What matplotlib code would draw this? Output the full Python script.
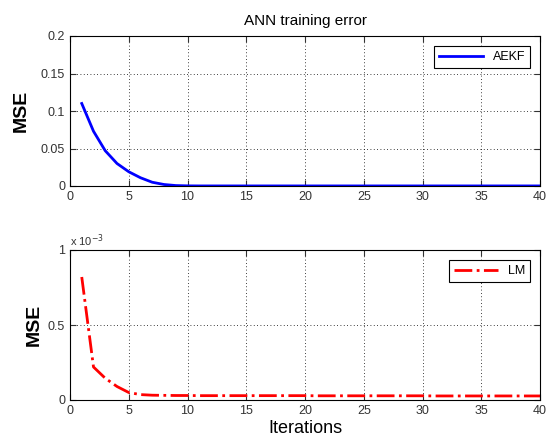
import numpy as np
import matplotlib
matplotlib.use("Agg")
import matplotlib.pyplot as plt

plt.rcParams['font.family'] = ['Liberation Sans', 'DejaVu Sans']

# iterations
iters = list(range(1, 41))

# AEKF training error
aekf_mse = [0.110, 0.073, 0.047, 0.030, 0.019, 0.011, 0.005, 0.002, 0.0006, 0.0002] + [0.0001] * 30

# LM training error (in units of 1e-3)
lm_mse_e3 = [0.82, 0.22, 0.145, 0.09, 0.05, 0.036, 0.032, 0.031, 0.030, 0.030] + [0.029] * 10 + [0.028] * 10 + [0.027] * 10

fig = plt.figure(figsize=(5.47, 4.45), dpi=100)
ax1 = fig.add_axes([70 / 547, 1 - 186 / 445, 470 / 547, 150 / 445])
ax2 = fig.add_axes([70 / 547, 1 - 400 / 445, 470 / 547, 150 / 445])

ax1.plot(iters, aekf_mse, color='blue', linewidth=2, label='AEKF')
ax1.set_xlim(0, 40)
ax1.set_ylim(0, 0.2)
ax1.set_yticks([0, 0.05, 0.1, 0.15, 0.2])
ax1.set_yticklabels(['0', '0.05', '0.1', '0.15', '0.2'])
ax1.set_title('ANN training error', fontsize=11, pad=8)
ax1.set_ylabel('MSE', fontsize=14, fontweight='bold', labelpad=8)

ax2.plot(iters, lm_mse_e3, color='red', linewidth=2, linestyle='-.', label='LM')
ax2.set_xlim(0, 40)
ax2.set_ylim(0, 1)
ax2.set_yticks([0, 0.5, 1])
ax2.set_yticklabels(['0', '0.5', '1'])
ax2.set_ylabel('MSE', fontsize=14, fontweight='bold', labelpad=4)
ax2.set_xlabel('Iterations', fontsize=13, labelpad=2)
ax2.text(0, 1.03, r'x 10$^{-3}$', transform=ax2.transAxes, fontsize=8, color='#333333')

for ax in (ax1, ax2):
    ax.set_xticks(range(0, 41, 5))
    ax.grid(True, color='black', linestyle=(0, (1, 3)), linewidth=0.6)
    ax.tick_params(direction='in', labelsize=9, colors='#333333', length=4, top=True, right=True)
    for s in ax.spines.values():
        s.set_linewidth(0.8)
    leg = ax.legend(loc='upper right', fontsize=9, fancybox=False, edgecolor='black', framealpha=1, handlelength=3.5, borderaxespad=0.8)
    leg.get_frame().set_linewidth(0.8)

fig.savefig('out.png', dpi=100)
